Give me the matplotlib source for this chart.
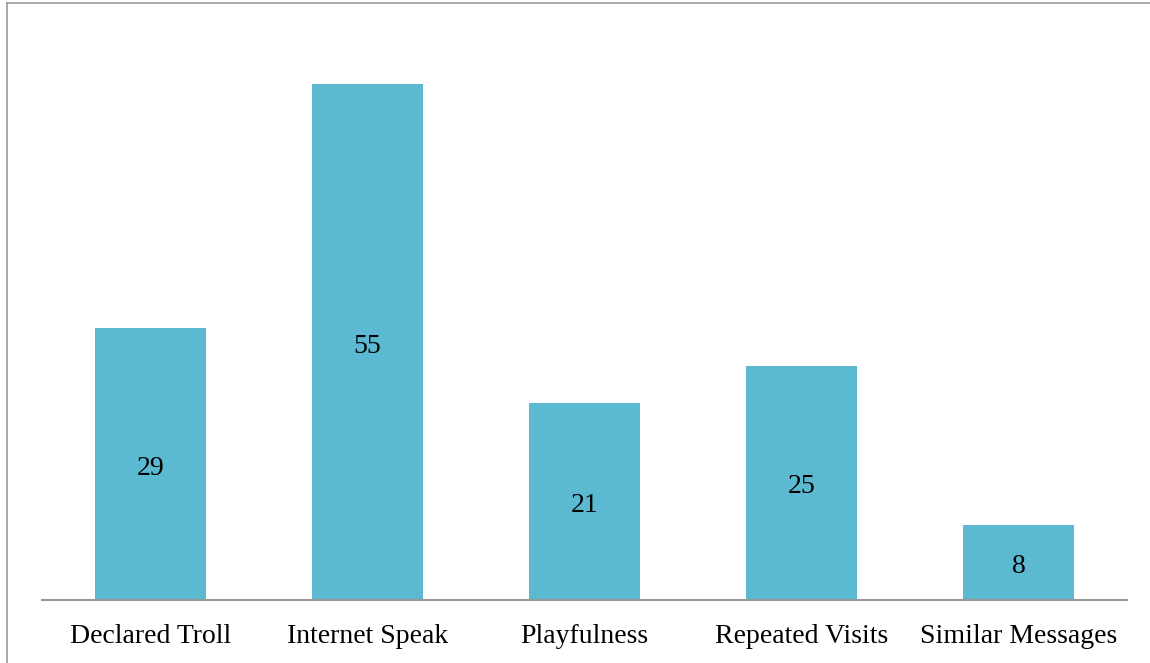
import matplotlib
matplotlib.use("Agg")
import matplotlib.pyplot as plt
from matplotlib.lines import Line2D

categories = ["Declared Troll", "Internet Speak", "Playfulness", "Repeated Visits", "Similar Messages"]
counts = [29, 55, 21, 25, 8]

W, H = 1150, 663
fig = plt.figure(figsize=(W / 100, H / 100), dpi=100)

# axes box in pixel terms: x 42..1127, baseline at y=600, 60 units of height
left, right = 42, 1127
base = 600
px_per_unit = 9.38
ymax = 60
top = base - ymax * px_per_unit
ax = fig.add_axes([left / W, (H - base) / H, (right - left) / W, (base - top) / H])

font = ["Liberation Serif", "DejaVu Serif"]
bars = ax.bar(range(len(categories)), counts, width=0.51, color="#5BB9D1", zorder=2)
ax.set_xlim(-0.5, len(categories) - 0.5)
ax.set_ylim(0, ymax)

for b, v in zip(bars, counts):
    ax.annotate(str(v), (b.get_x() + b.get_width() / 2, v / 2), xytext=(0, -3),
                textcoords="offset points", ha="center", va="center",
                fontsize=20, family=font, color="black")

ax.set_xticks(range(len(categories)))
ax.set_xticklabels(categories, fontsize=20, family=font)
ax.tick_params(axis="x", length=0, pad=17)
ax.set_yticks([])
for s in ["top", "right", "left"]:
    ax.spines[s].set_visible(False)
ax.spines["bottom"].set_color("#999999")
ax.spines["bottom"].set_linewidth(1.5)

# outer frame, top and left edges
fig.add_artist(Line2D([7 / W, 7 / W], [0, 1 - 2.5 / H], transform=fig.transFigure,
                      color="#999999", linewidth=1.2))
fig.add_artist(Line2D([7 / W, 1], [1 - 2.5 / H, 1 - 2.5 / H], transform=fig.transFigure,
                      color="#999999", linewidth=1.2))

fig.savefig("out.png", dpi=100)
